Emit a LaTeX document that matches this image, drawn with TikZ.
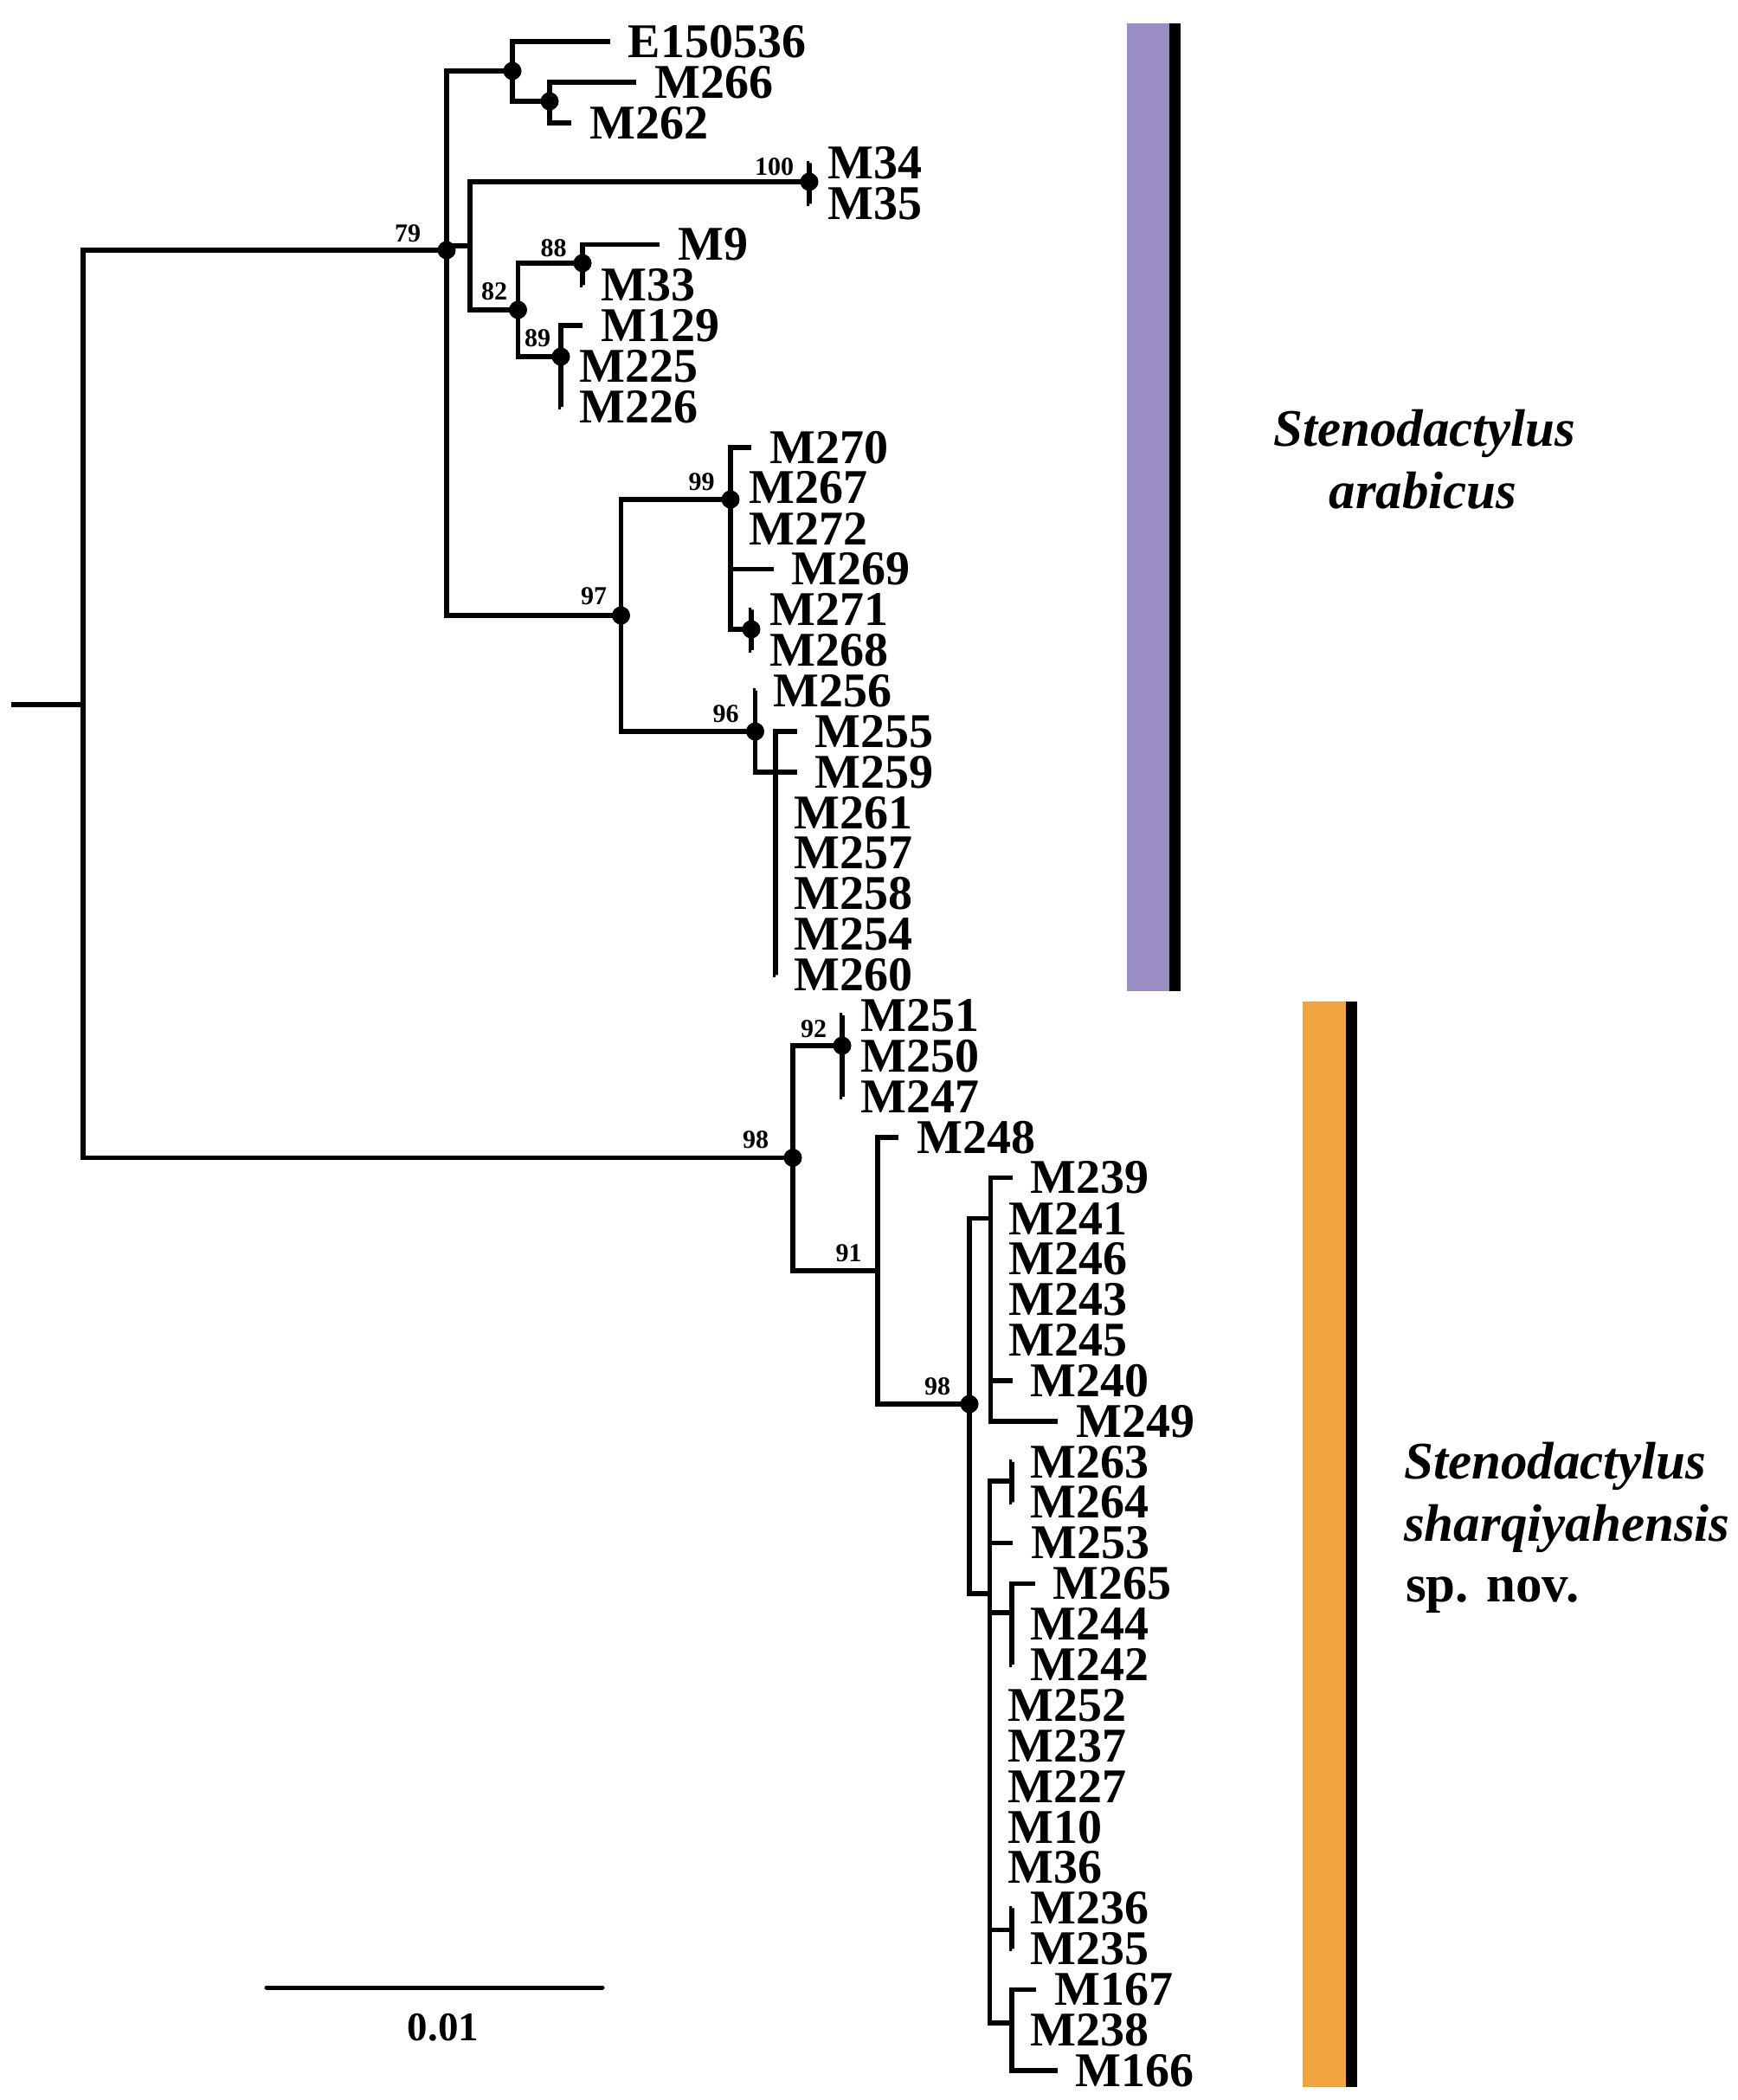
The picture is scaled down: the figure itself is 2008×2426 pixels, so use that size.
\documentclass[tikz,border=0pt]{standalone}
\usepackage{fontspec}
\setmainfont{Liberation Serif}
\definecolor{arabPurple}{RGB}{153,141,196}
\definecolor{sharqOrange}{RGB}{240,164,63}
\begin{document}
\begin{tikzpicture}[x=1pt,y=-1pt,
  br/.style={line width=5.5pt, line join=miter},
  bsdot/.style={circle, fill=black, inner sep=0pt, minimum size=21pt},
  leaf/.style={anchor=west, inner sep=0pt, font=\fontsize{56}{56}\selectfont\bfseries},
  bs/.style={inner sep=0pt, font=\fontsize{30}{30}\selectfont\bfseries},
  spname/.style={inner sep=0pt, anchor=base, font=\fontsize{61}{61}\selectfont\bfseries\itshape},
  spnameL/.style={inner sep=0pt, anchor=base west, font=\fontsize{61}{61}\selectfont\bfseries\itshape},
]
\useasboundingbox (0,0) rectangle (2008,2426);

% internal nodes
\coordinate (root0) at (13,814);
\coordinate (R0) at (96,814);
\coordinate (A) at (516,289);
\coordinate (B) at (592,82);
\coordinate (C) at (635,117);
\coordinate (D) at (543,284);
\coordinate (E) at (935,210);
\coordinate (F) at (598.5,358);
\coordinate (G) at (673,304);
\coordinate (H) at (648,412);
\coordinate (I) at (717.5,711);
\coordinate (J) at (844,577);
\coordinate (K) at (868,727);
\coordinate (L) at (872.5,845);
\coordinate (M) at (896,892);
\coordinate (N) at (916,1337.5);
\coordinate (O) at (973,1208);
\coordinate (P) at (1014,1468);
\coordinate (Q) at (1120,1622);
\coordinate (Rr) at (1144.5,1407.5);
\coordinate (S) at (1143.5,1841);
\coordinate (T) at (1169,1711);
\coordinate (U) at (1169,1863);
\coordinate (V) at (1169,2229.6);
\coordinate (W) at (1169,2337);

% internal edges
\draw[br] (root0) -- (R0);
\foreach \p/\c in {R0/A, R0/N, A/B, A/D, A/I, B/C, D/E, D/F, F/G, F/H,
                   I/J, I/L, J/K, L/M, N/O, N/P, P/Q, Q/Rr, Q/S,
                   S/T, S/U, S/V, S/W}
  \draw[br] (\p) |- (\c);

% leaves: name/row/tip x/parent
\foreach \n/\r/\x/\p in {
  E150536/0/704.5/B, M266/1/735/C, M262/2/660/C,
  M34/3/935.01/E, M35/4/935.01/E,
  M9/5/762/G, M33/6/673.01/G,
  M129/7/673/H, M225/8/648.01/H, M226/9/648.01/H,
  M270/10/868/J, M267/11/844.01/J, M272/12/844.01/J, M269/13/893.5/J,
  M271/14/868.01/K, M268/15/868.01/K,
  M256/16/872.51/L,
  M255/17/920.7/M, M259/18/920.7/M, M261/19/896.01/M, M257/20/896.01/M,
  M258/21/896.01/M, M254/22/896.01/M, M260/23/896.01/M,
  M251/24/973.01/O, M250/25/973.01/O, M247/26/973.01/O,
  M248/27/1038/P,
  M239/28/1169.6/Rr, M241/29/1144.51/Rr, M246/30/1144.51/Rr, M243/31/1144.51/Rr,
  M245/32/1144.51/Rr, M240/33/1169.6/Rr, M249/34/1222/Rr,
  M263/35/1169.01/T, M264/36/1169.01/T,
  M253/37/1170/S,
  M265/38/1195.7/U, M244/39/1169.01/U, M242/40/1169.01/U,
  M252/41/1143.51/S, M237/42/1143.51/S, M227/43/1143.51/S, M10/44/1143.51/S, M36/45/1143.51/S,
  M236/46/1169.01/V, M235/47/1169.01/V,
  M167/48/1197.3/W, M238/49/1169.01/W, M166/50/1221.7/W}
{
  \coordinate (t\n) at (\x,48+\r*46.88);
  \draw[br] (\p) |- (t\n);
  \node[leaf] (l\n) at ([xshift=21pt]t\n) {\n};
}

% support dots
\foreach \d in {A,B,C,E,F,G,H,I,J,K,L,N,O,Q}
  \node[bsdot] (dot\d) at (\d) {};

% bootstrap values
\node[bs] (bA) at (471,270) {79};
\node[bs] (bE) at (894.5,192.5) {100};
\node[bs] (bG) at (639.5,287) {88};
\node[bs] (bF) at (571,337) {82};
\node[bs] (bH) at (621,391) {89};
\node[bs] (bJ) at (810.5,557) {99};
\node[bs] (bI) at (686,689) {97};
\node[bs] (bL) at (838.5,825) {96};
\node[bs] (bO) at (940,1189) {92};
\node[bs] (bN) at (873,1317) {98};
\node[bs] (bP) at (980.5,1448) {91};
\node[bs] (bQ) at (1083,1602) {98};

% clade bars
\fill[arabPurple] (1301.5,26.5) rectangle (1351,1144.5);
\fill[black] (1351,26.5) rectangle (1363.5,1144.5);
\fill[sharqOrange] (1505,1157) rectangle (1555,2410.5);
\fill[black] (1555,1157) rectangle (1567.5,2410.5);

% species names
\node[spname] (sa1) at (1646,515) {Stenodactylus};
\node[spname] (sa2) at (1644,587) {arabicus};
\node[spnameL] (sb1) at (1622,1708) {Stenodactylus};
\node[spnameL] (sb2) at (1622,1780) {sharqiyahensis};
\node[inner sep=0pt, anchor=base west, font=\fontsize{61}{61}\selectfont\bfseries] (sb3) at (1624,1850) {sp. nov.};

% scale bar
\coordinate (sc1) at (308,2296);
\coordinate (sc2) at (696,2296);
\draw[line width=5pt, line cap=round] (sc1) -- (sc2);
\node[inner sep=0pt, font=\fontsize{47}{47}\selectfont\bfseries] (scl) at (512,2342) {0.01};
\end{tikzpicture}
\end{document}
